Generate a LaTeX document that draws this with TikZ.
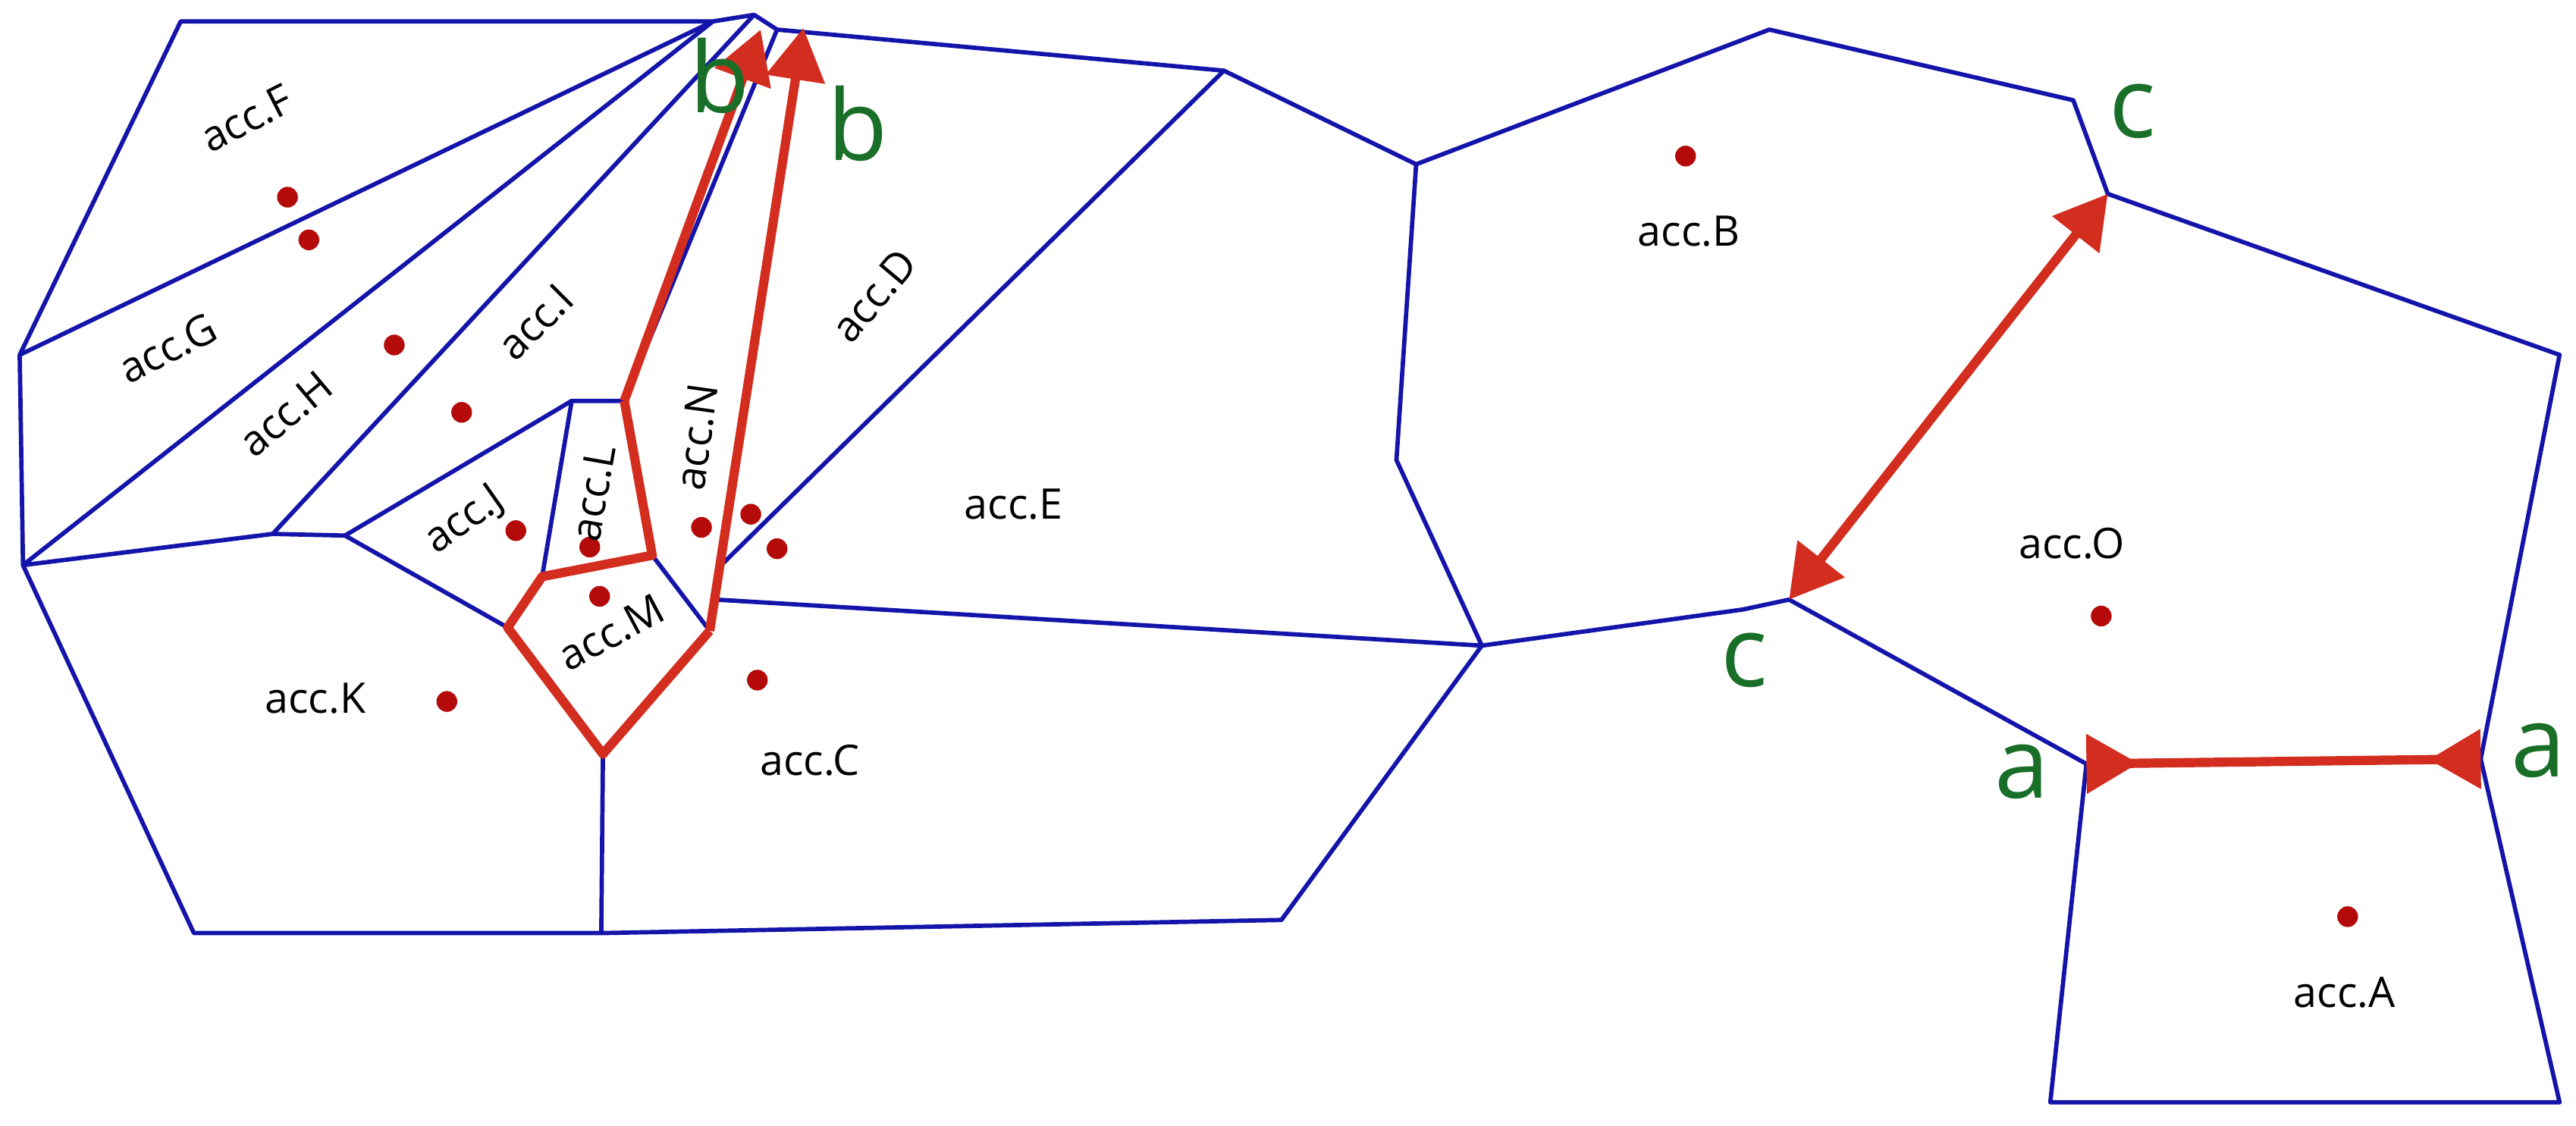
\documentclass[tikz,border=0pt]{standalone}
\usepackage{fontspec}
\setmainfont{Open Sans}
\usetikzlibrary{arrows.meta}
\definecolor{cellblue}{RGB}{20,20,170}
\definecolor{seamred}{RGB}{210,45,30}
\definecolor{glue}{RGB}{25,110,40}
\definecolor{dotred}{RGB}{180,10,10}

\tikzset{
  cell/.style={cellblue,line width=0.75pt,line join=round},
  seam/.style={seamred,line width=1.6pt,line join=round},
  acc/.style={font=\fontsize{7.3}{8}\selectfont,inner sep=0pt},
  gluelbl/.style={glue,font=\fontsize{17}{17}\selectfont,inner sep=0pt},
  site/.style={circle,fill=dotred,inner sep=0pt,minimum size=3.6pt}
}

\begin{document}
\begin{tikzpicture}[x=0.1mm,y=-0.1mm]
\useasboundingbox (0,0) rectangle (1568,685);

% cell corners
\coordinate (p1) at (110,13);   \coordinate (p2) at (434,13);
\coordinate (p3) at (459,9);    \coordinate (p4) at (473,18);
\coordinate (l1) at (12,216);   \coordinate (l2) at (14,344);
\coordinate (k1) at (166,325);  \coordinate (k2) at (210,326);
\coordinate (k3) at (118,568);  \coordinate (k4) at (366,568);
\coordinate (j1) at (348,244);  \coordinate (j2) at (380,244);
\coordinate (m1) at (330,351);  \coordinate (m2) at (309,382);
\coordinate (m3) at (397,338);  \coordinate (m4) at (367,459);
\coordinate (n1) at (432,384);  \coordinate (n2) at (436,365);
\coordinate (n3) at (439,344);
\coordinate (bl) at (463,18);   \coordinate (br) at (489,17);
\coordinate (e1) at (745,43);   \coordinate (e2) at (862,100);
\coordinate (e3) at (850,280);  \coordinate (e4) at (902,393);
\coordinate (c1) at (780,560);
\coordinate (b1) at (1077,18);  \coordinate (b2) at (1262,61);
\coordinate (b3) at (1283,118); \coordinate (b4) at (1061,371);
\coordinate (o1) at (1558,216); \coordinate (o2) at (1510,462);
\coordinate (o3) at (1089,365); \coordinate (o4) at (1270,465);
\coordinate (a1) at (1558,671); \coordinate (a2) at (1248,671);

% cell walls
\draw[cell] (l1) -- (p1) -- (p2) -- (p3) -- (p4) -- (e1) -- (e2) -- (e3) -- (e4) -- (c1) -- (k4) -- (k3) -- (l2) -- cycle;
\draw[cell] (l1) -- (p2);
\draw[cell] (l2) -- (p2);
\draw[cell] (l2) -- (k1) -- (k2) -- (m2);
\draw[cell] (k1) -- (p3);
\draw[cell] (k2) -- (j1) -- (j2);
\draw[cell] (j1) -- (m1);
\draw[cell] (j2) -- (p4);
\draw[cell] (m3) -- (n1);
\draw[cell] (m4) -- (k4);
\draw[cell] (n2) -- (e4);
\draw[cell] (n3) -- (e1);
\draw[cell] (e2) -- (b1) -- (b2) -- (b3) -- (o1) -- (o2) -- (a1) -- (a2) -- (o4) -- (o3) -- (b4) -- (e4);

% glued edges
\draw[seam] (j2) -- (m3) -- (m1) -- (m2) -- (m4) -- (n1);
\draw[seam,-{Triangle[length=9pt,width=10pt]}] (j2) -- (bl);
\draw[seam,-{Triangle[length=9pt,width=10pt]}] (n1) -- (br);
\draw[seam,{Triangle[length=9pt,width=10pt]}-{Triangle[length=9pt,width=10pt]}] (o3) -- (b3);
\draw[seam,{Triangle[length=9pt,width=10pt,reversed]}-{Triangle[length=9pt,width=10pt,reversed]}] (o4) -- (o2);

% sites
\foreach \x/\y in {175/120, 188/146, 240/210, 281/251, 314/323, 359/333, 365/363,
  427/321, 457/313, 473/334, 461/414, 272/427, 1026/95, 1279/375, 1429/558}
  \node[site] at (\x,\y) {};

% accounts
\node[acc,rotate=27] (accF) at (150,72) {acc.F};
\node[acc,rotate=27] (accG) at (102,212) {acc.G};
\node[acc,rotate=40] (accH) at (174,252) {acc.H};
\node[acc,rotate=45] (accI) at (326,196) {acc.I};
\node[acc,rotate=35] (accJ) at (283,317) {acc.J};
\node[acc,rotate=80] (accL) at (361,300) {acc.L};
\node[acc,rotate=82] (accN) at (424,266) {acc.N};
\node[acc,rotate=50] (accD) at (532,180) {acc.D};
\node[acc,rotate=28] (accM) at (372,385) {acc.M};
\node[acc] (accE) at (617,307) {acc.E};
\node[acc] (accK) at (192,425) {acc.K};
\node[acc] (accC) at (493,463) {acc.C};
\node[acc] (accB) at (1028,141) {acc.B};
\node[acc] (accO) at (1261,331) {acc.O};
\node[acc] (accA) at (1427,604) {acc.A};

% edge labels
\node[gluelbl] (bL) at (438,46) {b};
\node[gluelbl] (bR) at (522,75) {b};
\node[gluelbl] (cT) at (1298,68) {c};
\node[gluelbl] (cB) at (1062,402) {c};
\node[gluelbl] (aL) at (1231,470) {a};
\node[gluelbl] (aR) at (1545,457) {a};
\end{tikzpicture}
\end{document}
